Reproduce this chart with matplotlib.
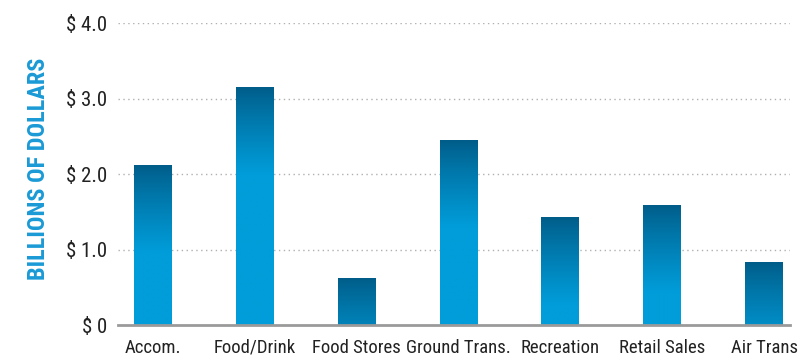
import numpy as np
import matplotlib
matplotlib.use("Agg")
import matplotlib.pyplot as plt

categories = ["Accom.", "Food/Drink", "Food Stores", "Ground Trans.", "Recreation", "Retail Sales", "Air Trans"]
spending = [2.11, 3.14, 0.62, 2.45, 1.42, 1.58, 0.83]
tick_values = [0, 1, 2, 3, 4]
tick_labels = ["$ 0", "$ 1.0", "$ 2.0", "$ 3.0", "$ 4.0"]

plt.rcParams["font.family"] = ["Roboto Condensed", "Archivo Narrow", "Barlow Condensed", "DejaVu Sans"]

dark = np.array([0x00, 0x5c, 0x88]) / 255
light = np.array([0x00, 0x9d, 0xda]) / 255
fade = 1.15  # height of the dark-to-light fade at the top of each bar

fig = plt.figure(figsize=(8, 3.6), dpi=100)
ax = fig.add_axes([0.1475, 0.0972, 0.84, 0.8389])

x = np.arange(len(categories))
bars = ax.bar(x, spending, width=0.37, color="none", zorder=3)

for rect, h in zip(bars, spending):
    x0 = rect.get_x()
    x1 = x0 + rect.get_width()
    ys = np.linspace(h, 0, 300)
    t = np.clip((h - ys) / fade, 0, 1) ** 0.85
    t = t[:, None]
    rgb = dark * (1 - t) + light * t
    img = np.repeat(rgb[:, None, :], 2, axis=1)
    ax.imshow(img, extent=(x0, x1, 0, h), aspect="auto", zorder=3,
              interpolation="bilinear")

ax.set_xlim(-0.343, len(categories) - 1 + 0.255)
ax.set_ylim(0, 4)

ax.set_yticks(tick_values)
ax.set_yticklabels(tick_labels, fontsize=15, color="#222222")
ax.set_xticks(x)
ax.set_xticklabels(categories, fontsize=13.5, color="#222222")
ax.tick_params(length=0)
ax.tick_params(axis="y", pad=8)
ax.tick_params(axis="x", pad=10)

for v in tick_values[1:]:
    ax.axhline(v, color="#b0b0b0", linestyle=(0, (1, 2.5)), linewidth=1, zorder=1)

for side in ["top", "right", "left"]:
    ax.spines[side].set_visible(False)
ax.spines["bottom"].set_color("#9a9a9a")
ax.spines["bottom"].set_linewidth(2)
ax.spines["bottom"].set_zorder(4)

fig.text(0.048, 0.53, "BILLIONS OF DOLLARS", rotation=90, ha="center", va="center",
         fontsize=17.5, fontweight="bold", color="#1a9ad6")

fig.savefig("out.png", dpi=100)
